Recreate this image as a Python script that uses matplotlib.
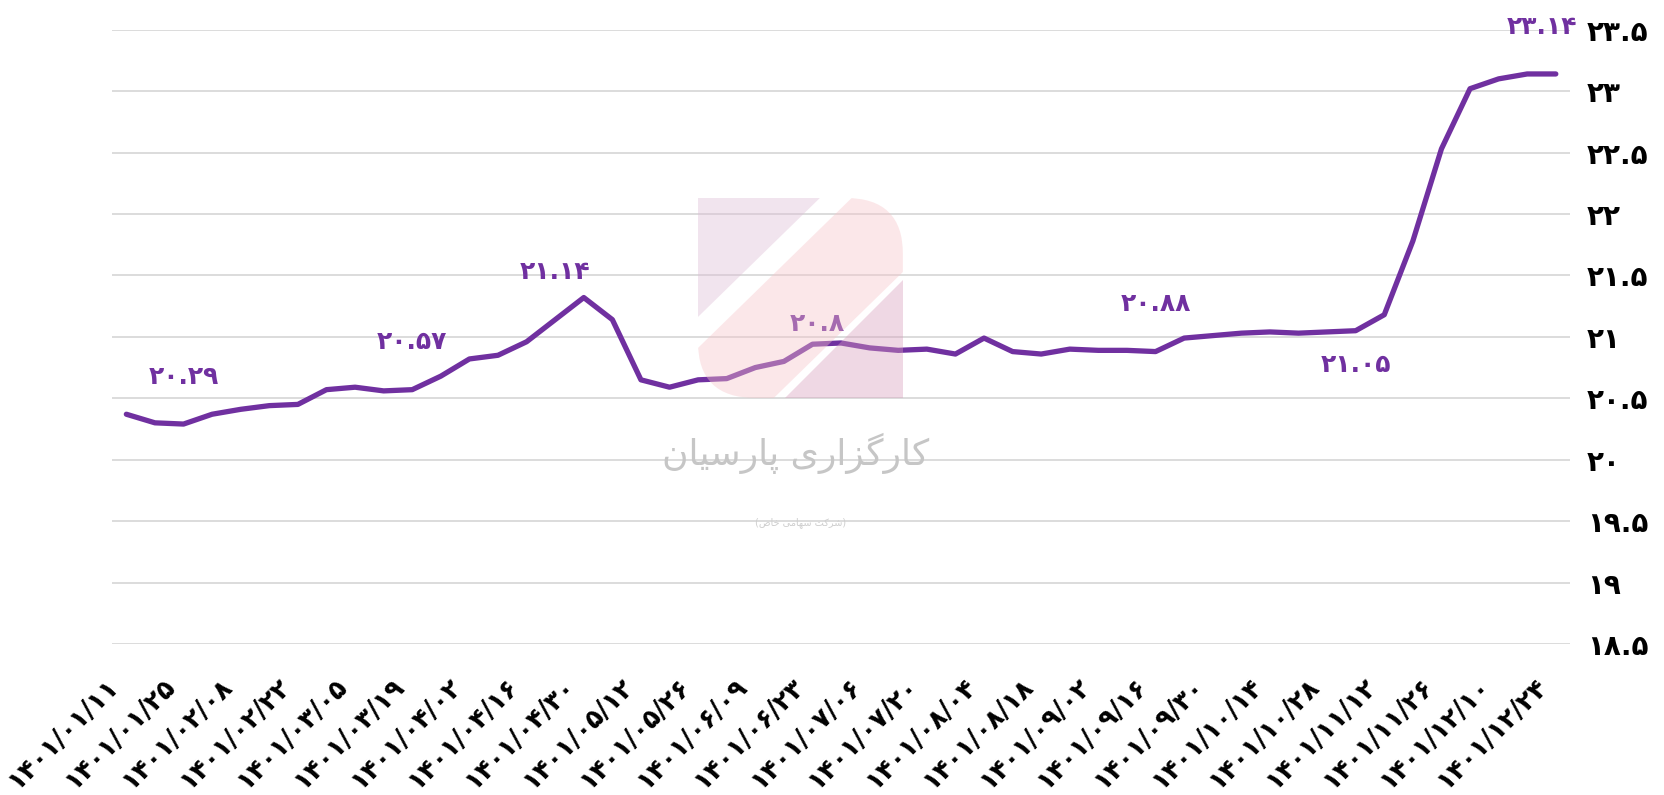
import matplotlib.pyplot as plt
from matplotlib.patches import Polygon, FancyBboxPatch
from matplotlib.ticker import FuncFormatter, MultipleLocator
import matplotlib.transforms as mtransforms

fa_digits = str.maketrans('0123456789', '۰۱۲۳۴۵۶۷۸۹')

def fa(s):
    return str(s).translate(fa_digits)

# weekly values, 1401
values = [20.37, 20.30, 20.29, 20.37, 20.41, 20.44, 20.45, 20.57, 20.59, 20.56,
          20.57, 20.68, 20.82, 20.85, 20.96, 21.14, 21.32, 21.14, 20.65, 20.59,
          20.65, 20.66, 20.75, 20.80, 20.94, 20.95, 20.91, 20.89, 20.90, 20.86,
          20.99, 20.88, 20.86, 20.90, 20.89, 20.89, 20.88, 20.99, 21.01, 21.03,
          21.04, 21.03, 21.04, 21.05, 21.18, 21.78, 22.53, 23.02, 23.10, 23.14, 23.14]

# every second week gets a date label
tick_dates = ['1401/01/11', '1401/01/25', '1401/02/08', '1401/02/22', '1401/03/05',
              '1401/03/19', '1401/04/02', '1401/04/16', '1401/04/30', '1401/05/12',
              '1401/05/26', '1401/06/09', '1401/06/23', '1401/07/06', '1401/07/20',
              '1401/08/04', '1401/08/18', '1401/09/02', '1401/09/16', '1401/09/30',
              '1401/10/14', '1401/10/28', '1401/11/12', '1401/11/26', '1401/12/10',
              '1401/12/24']

# (index, text, dx, dy) in points
point_labels = [(2, '20.29', 0, 34), (10, '20.57', 0, 34), (15, '21.14', 0, 34),
                (23, '20.8', 24, 27), (36, '20.88', 0, 34), (43, '21.05', 0, -25),
                (50, '23.14', -10, 34)]

purple = '#7030A0'
plt.rcParams['font.family'] = ['DejaVu Sans']

fig = plt.figure(figsize=(16.65, 7.95), dpi=100)
ax = fig.add_axes([0.0673, 0.19, 0.8757, 0.7726])
ax.set_zorder(1)

x = list(range(len(values)))
ax.plot(x, values, color=purple, lw=3.8, solid_capstyle='round', solid_joinstyle='round', zorder=3)

for i, txt, dx, dy in point_labels:
    ax.annotate(fa(txt), (i, values[i]), xytext=(dx, dy), textcoords='offset points',
                ha='center', va='center', color=purple, fontsize=18, fontweight='bold', zorder=4)

ax.set_xlim(-0.5, len(values) - 0.5)
ax.set_ylim(18.5, 23.5)
ax.yaxis.set_major_locator(MultipleLocator(0.5))
ax.yaxis.set_major_formatter(FuncFormatter(lambda v, p: fa(f'{v:g}')))
ax.yaxis.tick_right()
ax.tick_params(axis='y', length=0, pad=12, labelsize=20)
for lab in ax.get_yticklabels():
    lab.set_fontweight('bold')

ax.set_xticks(range(0, len(values), 2))
ax.set_xticklabels([fa(d) for d in tick_dates], rotation=45, ha='right',
                   fontsize=18.5, fontweight='bold')
ax.tick_params(axis='x', length=0, pad=21)
shift = mtransforms.ScaledTranslation(-2 / 72, 0, fig.dpi_scale_trans)
for lab in ax.get_xticklabels():
    lab.set_transform(lab.get_transform() + shift)

ax.grid(axis='y', color='#d9d9d9', lw=1.3)
ax.set_axisbelow(True)
for s in ax.spines.values():
    s.set_visible(False)

# logo watermark
wm = fig.add_axes([0.4192, 0.4994, 0.1231, 0.2516])
wm.set_zorder(2)
wm.set_xlim(0, 1)
wm.set_ylim(0, 1)
wm.axis('off')
a = 0.4
wm.add_patch(Polygon([(0, 1), (0.595, 1), (0, 0.405)], closed=True, fc=(0.87, 0.74, 0.84), ec='none', alpha=a))
box = FancyBboxPatch((0, 0), 1, 1, boxstyle='round,pad=0,rounding_size=0.28', transform=wm.transData, fc='none', ec='none')
wm.add_patch(box)
band = Polygon([(0, 0.25), (0.75, 1), (1, 1), (1, 0.63), (0.37, 0), (0, 0)], closed=True,
               fc=(0.97, 0.77, 0.79), ec='none', alpha=a)
wm.add_patch(band)
band.set_clip_path(box)
wm.add_patch(Polygon([(0.424, 0), (1, 0), (1, 0.59)], closed=True, fc=(0.85, 0.62, 0.74), ec='none', alpha=a))

fig.text(0.478, 0.43, 'ﻥﺎﯿﺳﺭﺎﭘ ﯼﺭﺍﺰﮔﺭﺎﻛ', ha='center', va='center', fontsize=26,
         color='#c6c6c6', zorder=5)
fig.text(0.481, 0.343, '(ﺹﺎﺧ ﯽﻣﺎﻬﺳ ﺖﻛﺮﺷ)', ha='center', va='center', fontsize=7,
         color='#cfcfcf', zorder=5)

fig.savefig('out.png', dpi=100)
